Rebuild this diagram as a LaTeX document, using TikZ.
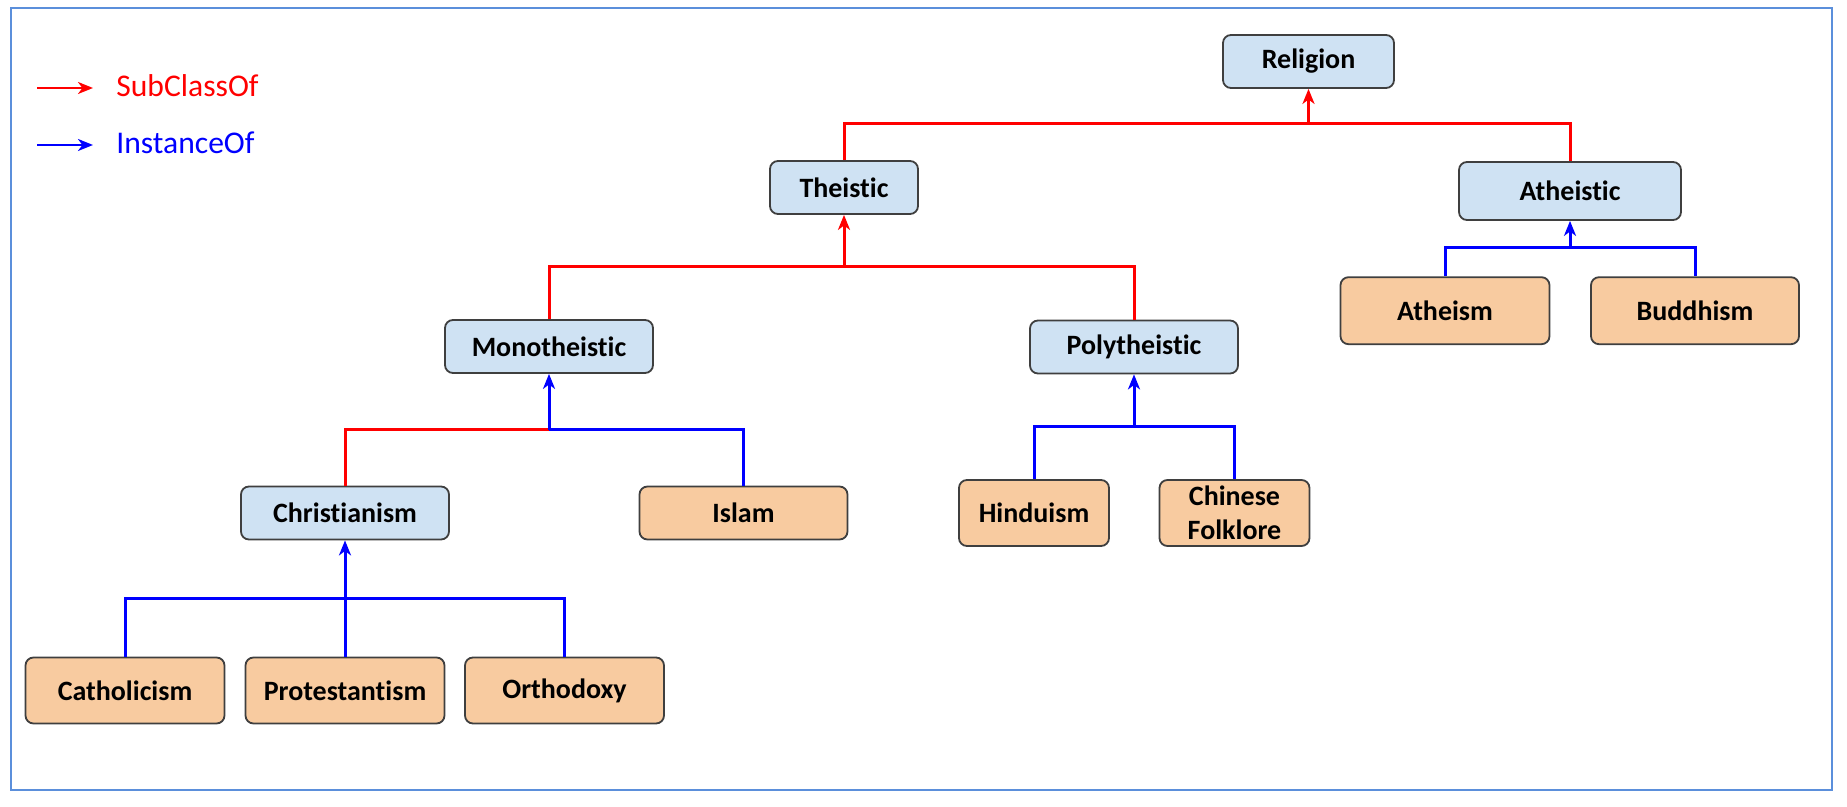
\documentclass[tikz,border=0pt]{standalone}
\usepackage{fontspec}
\setmainfont{Carlito}[Ligatures=NoCommon]
\usetikzlibrary{arrows.meta}
\definecolor{clsfill}{HTML}{CFE2F3}
\definecolor{insfill}{HTML}{F8CBA0}
\definecolor{boxline}{HTML}{3F3F3F}
\definecolor{framecol}{HTML}{5B8FDB}
\definecolor{subred}{HTML}{FF0000}
\definecolor{instblue}{HTML}{0000FF}
\begin{document}
\begin{tikzpicture}[x=0.5pt,y=-0.5pt,
 box/.style={draw=boxline, line width=0.9pt, rounded corners=4pt, font=\fontsize{14}{17}\selectfont\bfseries, align=center, inner sep=0pt},
 cls/.style={box, fill=clsfill},
 ins/.style={box, fill=insfill},
 sub/.style={draw=subred, line width=1.5pt},
 inst/.style={draw=instblue, line width=1.5pt},
 tip/.style={-{Stealth[length=7.5pt,width=6pt,inset=2.2pt]}},
 legtext/.style={anchor=west, inner sep=0pt, font=\fontsize{15.8}{19}\selectfont}
]
\useasboundingbox (0,0) rectangle (1847,807);
\draw[framecol, line width=1.2pt] (11,8) rectangle (1832,790);

% legend
\coordinate (l1a) at (37,88);
\coordinate (l1b) at (93,88);
\coordinate (l2a) at (37,145);
\coordinate (l2b) at (93,145);
\draw[sub, line width=1.1pt, tip] (l1a) -- (l1b);
\draw[inst, line width=1.1pt, tip] (l2a) -- (l2b);
\node[legtext, text=subred] (lsub) at (116,86) {SubClassOf};
\node[legtext, text=instblue] (linst) at (116,143) {InstanceOf};

% class nodes
\node[cls, minimum width=85.5pt, minimum height=26.5pt] (religion) at (1308.5,61.5) {Religion};
\node[cls, minimum width=74pt, minimum height=26.5pt] (theistic) at (844,187.5) {Theistic};
\node[cls, minimum width=111pt, minimum height=29pt] (atheistic) at (1570,191) {Atheistic};
\node[cls, minimum width=104pt, minimum height=26.5pt] (mono) at (549,346.5) {Monotheistic};
\node[cls, minimum width=104pt, minimum height=26.5pt] (poly) at (1134,347) {Polytheistic};
\node[cls, minimum width=104pt, minimum height=26.5pt] (christ) at (345,513) {Christianism};

% instance nodes
\node[ins, minimum width=104pt, minimum height=26.5pt] (islam) at (743.5,513) {Islam};
\node[ins, minimum width=75pt, minimum height=33pt] (hindu) at (1034,513) {Hinduism};
\node[ins, minimum width=75pt, minimum height=33pt] (chinese) at (1234.5,513) {Chinese\\Folklore};
\node[ins, minimum width=104.5pt, minimum height=33.5pt] (atheism) at (1445,310.7) {Atheism};
\node[ins, minimum width=104pt, minimum height=33.5pt] (buddhism) at (1695,310.7) {Buddhism};
\node[ins, minimum width=99.5pt, minimum height=33pt] (catholicism) at (125,690.5) {Catholicism};
\node[ins, minimum width=99.5pt, minimum height=33pt] (protestantism) at (345,690.5) {Protestantism};
\node[ins, minimum width=99.5pt, minimum height=33pt] (orthodoxy) at (564.5,690.5) {Orthodoxy};

% junctions
\coordinate (J1) at (1308.5,124);
\coordinate (J2) at (844,267);
\coordinate (J3) at (549,430);
\coordinate (J4) at (1134,427);
\coordinate (J5) at (1570,248);
\coordinate (J6) at (345,598);

% Religion level
\draw[sub] (theistic.north) |- (J1) -| (atheistic.north);
\draw[sub, tip] (J1) -- (religion.south);
% Theistic level
\draw[sub] (mono.north) |- (J2) -| (poly.north);
\draw[sub, tip] (J2) -- (theistic.south);
% Monotheistic level
\draw[sub] (christ.north) |- (J3);
\draw[inst] (J3) -| (islam.north);
\draw[inst, tip] (J3) -- (mono.south);
% Polytheistic level
\draw[inst] (hindu.north) |- (J4) -| (chinese.north);
\draw[inst, tip] (J4) -- (poly.south);
% Atheistic level
\draw[inst] (atheism.north) |- (J5) -| (buddhism.north);
\draw[inst, tip] (J5) -- (atheistic.south);
% Christianism level
\draw[inst] (catholicism.north) |- (J6) -| (orthodoxy.north);
\draw[inst] (protestantism.north) -- (J6);
\draw[inst, tip] (J6) -- (christ.south);
\end{tikzpicture}
\end{document}
